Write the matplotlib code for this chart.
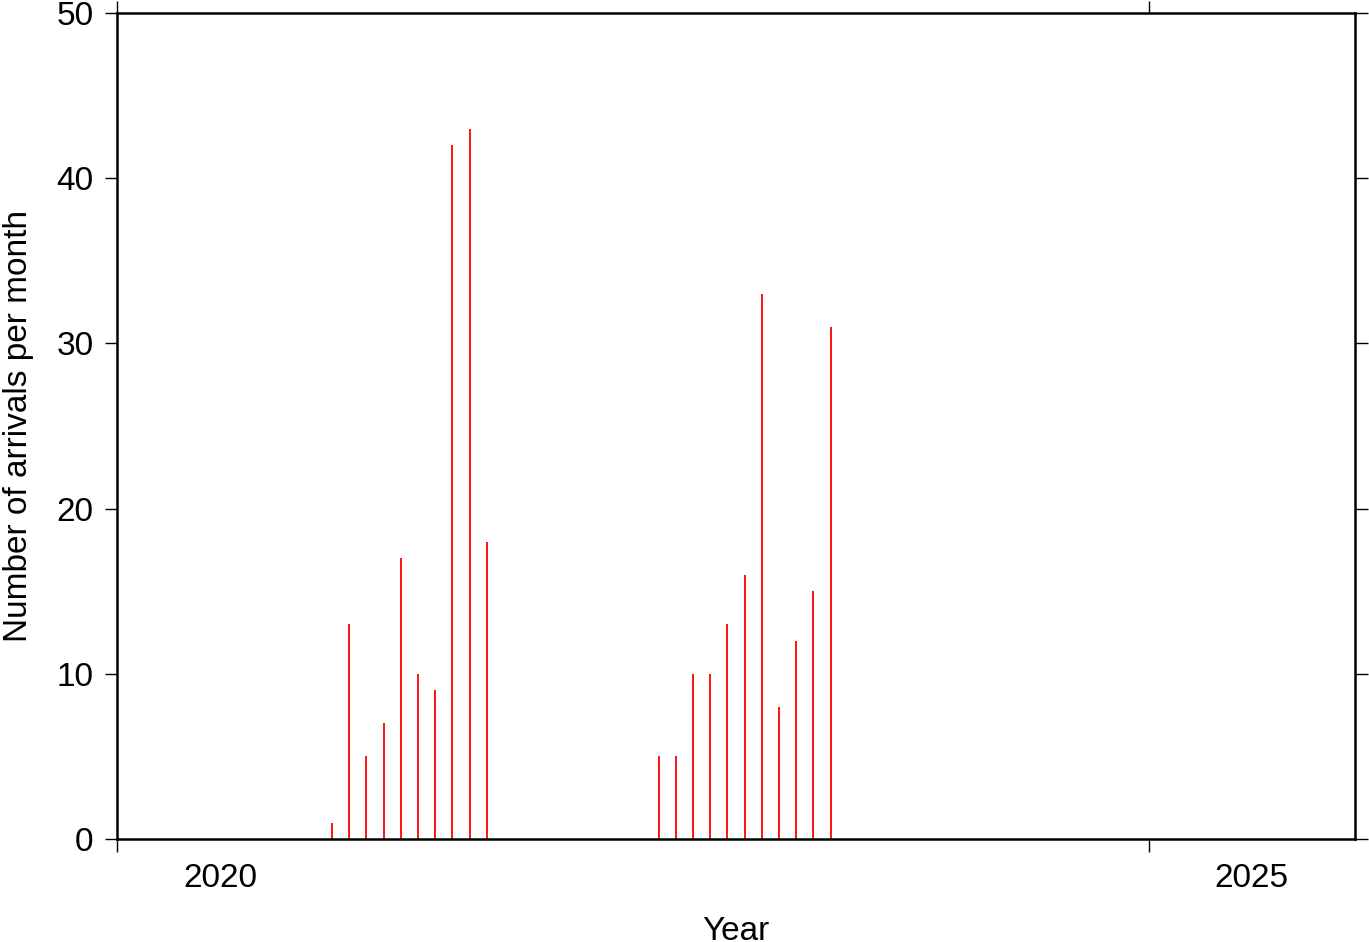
import matplotlib.pyplot as plt

plt.rcParams['font.family'] = ['Liberation Sans', 'DejaVu Sans']

months = ["2021-01", "2021-02", "2021-03", "2021-04", "2021-05", "2021-06",
          "2021-07", "2021-08", "2021-09", "2021-10",
          "2022-08", "2022-09", "2022-10", "2022-11", "2022-12", "2023-01",
          "2023-02", "2023-03", "2023-04", "2023-05", "2023-06"]
arrivals = [1, 13, 5, 7, 17, 10, 9, 42, 43, 18,
            5, 5, 10, 10, 13, 16, 33, 8, 12, 15, 31]
year_ticks = [2020, 2025]

# bar at the middle of each month, in decimal years
xpos = [int(m[:4]) + (int(m[5:]) - 0.5) / 12 for m in months]

fig = plt.figure(figsize=(13.69, 9.42), dpi=100)
ax = fig.add_axes([0.0855, 0.1093, 0.9043, 0.8769])

ax.vlines(xpos, 0, arrivals, color="red", linewidth=1.3)

ax.set_xlim(2020, 2026)
ax.set_ylim(0, 50)

ax.set_xticks(year_ticks)
ax.set_xticklabels([])
ax.set_xticks([y + 0.5 for y in year_ticks], minor=True)
ax.set_xticklabels([str(y) for y in year_ticks], minor=True, fontsize=24)
ax.set_yticks(range(0, 51, 10))
ax.tick_params(axis="y", labelsize=24)

ax.tick_params(which="major", direction="out", length=9, width=1,
               top=True, right=True, pad=8)
ax.tick_params(axis="x", which="minor", length=0, pad=17)

for s in ax.spines.values():
    s.set_linewidth(1.8)

ax.set_xlabel("Year", fontsize=24, labelpad=16)
ax.set_ylabel("Number of arrivals per month", fontsize=24, labelpad=16)

fig.savefig("out.png", dpi=100)
